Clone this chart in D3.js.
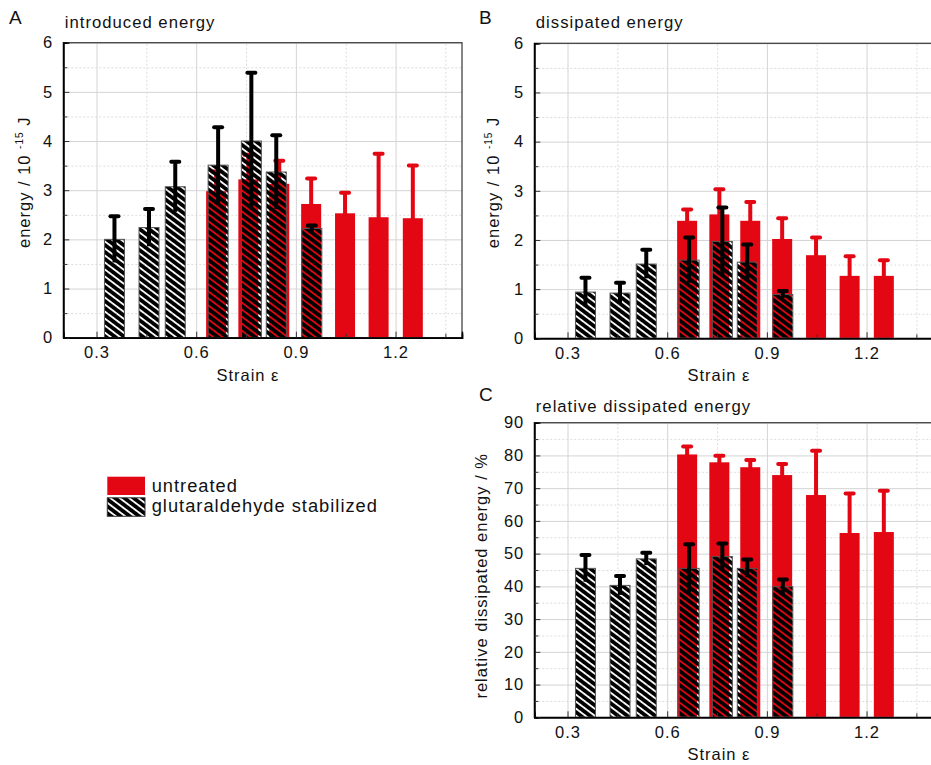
<!DOCTYPE html>
<html><head><meta charset="utf-8">
<script src="https://cdn.jsdelivr.net/npm/d3@7"></script>
<style>
body{margin:0;background:#fff}
svg text{font-family:"Liberation Sans",Arial,sans-serif;letter-spacing:1px;fill:#111}
</style></head><body>
<svg id="chart" width="931" height="765"></svg>
<script>
// ---- data ----
const strainUntreated  = [0.660, 0.757, 0.850, 0.946, 1.048, 1.149, 1.252];
const strainStabilized = [0.354, 0.458, 0.537, 0.666, 0.766, 0.841, 0.948];

const introducedUntreated     = [2.98, 3.22, 3.13, 2.72, 2.53, 2.45, 2.43];
const introducedUntreatedErr  = [0.40, 0.50, 0.47, 0.52, 0.42, 1.29, 1.07];
const introducedStabilized    = [2.00, 2.24, 3.07, 3.51, 4.00, 3.37, 2.22];
const introducedStabilizedErr = [0.47, 0.38, 0.51, 0.77, 1.39, 0.75, 0.06];

const dissipatedUntreated     = [2.39, 2.52, 2.39, 2.02, 1.69, 1.27, 1.27];
const dissipatedUntreatedErr  = [0.23, 0.51, 0.38, 0.42, 0.36, 0.40, 0.32];
const dissipatedStabilized    = [0.94, 0.92, 1.51, 1.59, 1.97, 1.55, 0.89];
const dissipatedStabilizedErr = [0.29, 0.21, 0.29, 0.46, 0.69, 0.36, 0.07];

const relativeUntreated     = [80.3, 77.9, 76.4, 74.0, 67.9, 56.3, 56.6];
const relativeUntreatedErr  = [2.4, 2.0, 2.2, 3.4, 13.5, 12.1, 12.6];
const relativeStabilized    = [45.5, 40.3, 48.4, 45.5, 49.1, 45.5, 39.9];
const relativeStabilizedErr = [4.1, 2.9, 1.9, 7.4, 4.0, 2.7, 2.2];

const xTicks      = [0.3, 0.6, 0.9, 1.2];
const xMinorTicks = [0.45, 0.75, 1.05, 1.35];
const energyTicks      = [0, 1, 2, 3, 4, 5, 6];
const energyMinorTicks = [0.5, 1.5, 2.5, 3.5, 4.5, 5.5];
const relTicks      = [0, 10, 20, 30, 40, 50, 60, 70, 80, 90];
const relMinorTicks = [5, 15, 25, 35, 45, 55, 65, 75, 85];

const legendLabels = ["untreated", "glutaraldehyde stabilized"];

// ---- styles ----
const RED = "#e30613";
const svg = d3.select("#chart");
svg.append("rect").attr("width", 931).attr("height", 765).attr("fill", "#fff");

const defs = svg.append("defs");
const pat = defs.append("pattern").attr("id", "hatch")
  .attr("patternUnits", "userSpaceOnUse").attr("width", 5.6).attr("height", 5.6)
  .attr("patternTransform", "rotate(-53)");
pat.append("rect").attr("x", 0).attr("y", 0).attr("width", 3.8).attr("height", 5.6).attr("fill", "#000");

function panel(o) {
  const W = 398.7, H = o.bottom - o.top;
  const x = d3.scaleLinear().domain([0.2, 1.4]).range([o.left, o.left + W]);
  const y = d3.scaleLinear().domain([o.yTicks[0], o.yTicks[o.yTicks.length - 1]]).range([o.bottom, o.top]);
  const g = svg.append("g");

  // grid
  const grid = g.append("g");
  const gx1 = grid.append("g").attr("transform", `translate(0,${o.bottom})`)
    .call(d3.axisBottom(x).tickValues(xMinorTicks).tickSize(-H).tickFormat(""));
  const gy1 = grid.append("g").attr("transform", `translate(${o.left},0)`)
    .call(d3.axisLeft(y).tickValues(o.yMinor).tickSize(-W).tickFormat(""));
  [gx1, gy1].forEach(s => { s.select(".domain").remove();
    s.selectAll("line").attr("stroke", "#dcdcdc").attr("stroke-dasharray", "2,2"); });
  const gx2 = grid.append("g").attr("transform", `translate(0,${o.bottom})`)
    .call(d3.axisBottom(x).tickValues(xTicks).tickSize(-H).tickFormat(""));
  const gy2 = grid.append("g").attr("transform", `translate(${o.left},0)`)
    .call(d3.axisLeft(y).tickValues(o.yTicks).tickSize(-W).tickFormat(""));
  [gx2, gy2].forEach(s => { s.select(".domain").remove();
    s.selectAll("line").attr("stroke", "#d4d4d4"); });

  const bw = 20;
  function errBars(strains, vals, errs, color) {
    const e = g.append("g").attr("stroke", color);
    e.selectAll("line.v").data(vals).join("line").attr("class", "v")
      .attr("x1", (d, i) => x(strains[i])).attr("x2", (d, i) => x(strains[i]))
      .attr("y1", (d, i) => y(d - errs[i])).attr("y2", (d, i) => y(d + errs[i]))
      .attr("stroke-width", 4);
    e.selectAll("line.c").data(vals).join("line").attr("class", "c")
      .attr("x1", (d, i) => x(strains[i]) - 4).attr("x2", (d, i) => x(strains[i]) + 4)
      .attr("y1", (d, i) => y(d + errs[i])).attr("y2", (d, i) => y(d + errs[i]))
      .attr("stroke-width", 4).attr("stroke-linecap", "round");
  }
  // untreated
  g.append("g").selectAll("rect").data(o.red).join("rect")
    .attr("x", (d, i) => x(strainUntreated[i]) - bw / 2).attr("width", bw)
    .attr("y", d => y(d)).attr("height", d => y(0) - y(d)).attr("fill", RED);
  errBars(strainUntreated, o.red, o.redErr, RED);
  // stabilized
  g.append("g").selectAll("rect").data(o.stab).join("rect")
    .attr("x", (d, i) => x(strainStabilized[i]) - bw / 2).attr("width", bw)
    .attr("y", d => y(d)).attr("height", d => y(0) - y(d))
    .attr("fill", "url(#hatch)").attr("stroke", "#555").attr("stroke-width", 1);
  errBars(strainStabilized, o.stab, o.stabErr, "#000");

  // frame
  g.append("rect").attr("x", o.left).attr("y", o.top).attr("width", W).attr("height", H)
    .attr("fill", "none").attr("stroke", "#444").attr("stroke-width", 1.3);

  // axes
  const ax = g.append("g").attr("transform", `translate(0,${o.bottom})`)
    .call(d3.axisBottom(x).tickValues(xTicks).tickSize(-6).tickPadding(9).tickFormat(d3.format(".1f")));
  const axm = g.append("g").attr("transform", `translate(0,${o.bottom})`)
    .call(d3.axisBottom(x).tickValues(xMinorTicks).tickSize(-4).tickFormat(""));
  const ay = g.append("g").attr("transform", `translate(${o.left},0)`)
    .call(d3.axisLeft(y).tickValues(o.yTicks).tickSize(-6).tickPadding(10).tickFormat(d3.format("d")));
  const aym = g.append("g").attr("transform", `translate(${o.left},0)`)
    .call(d3.axisLeft(y).tickValues(o.yMinor).tickSize(-4).tickFormat(""));
  [ax, axm, ay, aym].forEach(s => {
    s.select(".domain").attr("stroke", "#000").attr("stroke-width", 1.5);
    s.selectAll(".tick line").attr("stroke", "#333");
    s.selectAll("text").attr("font-size", 16.5).attr("fill", "#111")
      .style("font-family", '"Liberation Sans",Arial,sans-serif');
  });

  // labels
  g.append("text").attr("x", o.letterX).attr("y", o.letterY).attr("font-size", 19).text(o.letter);
  g.append("text").attr("x", o.left + 1.5).attr("y", o.titleY).attr("font-size", 16.7).text(o.title);
  g.append("text").attr("x", o.left + 184.6).attr("y", o.bottom + 43).attr("font-size", 16.5)
    .attr("text-anchor", "middle").text("Strain ε");
  const yl = g.append("text").attr("font-size", 16.5).attr("text-anchor", "middle")
    .attr("transform", `translate(${o.ylabX},${o.ylabY}) rotate(-90)`);
  if (o.energy) {
    yl.append("tspan").text("energy / 10 ");
    yl.append("tspan").attr("font-size", 10).attr("dy", -7).text("-15");
    yl.append("tspan").attr("dy", 7).text(" J");
  } else {
    yl.text("relative dissipated energy / %");
  }
}

panel({ left: 63.3, top: 42.7, bottom: 337.7, yTicks: energyTicks, yMinor: energyMinorTicks,
  red: introducedUntreated, redErr: introducedUntreatedErr,
  stab: introducedStabilized, stabErr: introducedStabilizedErr,
  letter: "A", letterX: 9, letterY: 24, title: "introduced energy", titleY: 28.3,
  ylabX: 29.5, ylabY: 182.3, energy: true });
panel({ left: 534.3, top: 43.3, bottom: 338.3, yTicks: energyTicks, yMinor: energyMinorTicks,
  red: dissipatedUntreated, redErr: dissipatedUntreatedErr,
  stab: dissipatedStabilized, stabErr: dissipatedStabilizedErr,
  letter: "B", letterX: 479, letterY: 23.5, title: "dissipated energy", titleY: 28.3,
  ylabX: 499, ylabY: 182.5, energy: true });
panel({ left: 534.3, top: 422.7, bottom: 717.3, yTicks: relTicks, yMinor: relMinorTicks,
  red: relativeUntreated, redErr: relativeUntreatedErr,
  stab: relativeStabilized, stabErr: relativeStabilizedErr,
  letter: "C", letterX: 479, letterY: 401, title: "relative dissipated energy", titleY: 411.7,
  ylabX: 486.7, ylabY: 575.8, energy: false });

// legend
const lg = svg.append("g");
lg.append("rect").attr("x", 107.3).attr("y", 476.7).attr("width", 37.7).attr("height", 18.3).attr("fill", RED);
lg.append("rect").attr("x", 107.3).attr("y", 497.8).attr("width", 37.7).attr("height", 18.5)
  .attr("fill", "url(#hatch)").attr("stroke", "#333").attr("stroke-width", 1);
lg.selectAll("text").data(legendLabels).join("text")
  .attr("x", 151.7).attr("y", (d, i) => i === 0 ? 491.7 : 512.3)
  .attr("font-size", 18.3).text(d => d);
</script>
</body></html>
